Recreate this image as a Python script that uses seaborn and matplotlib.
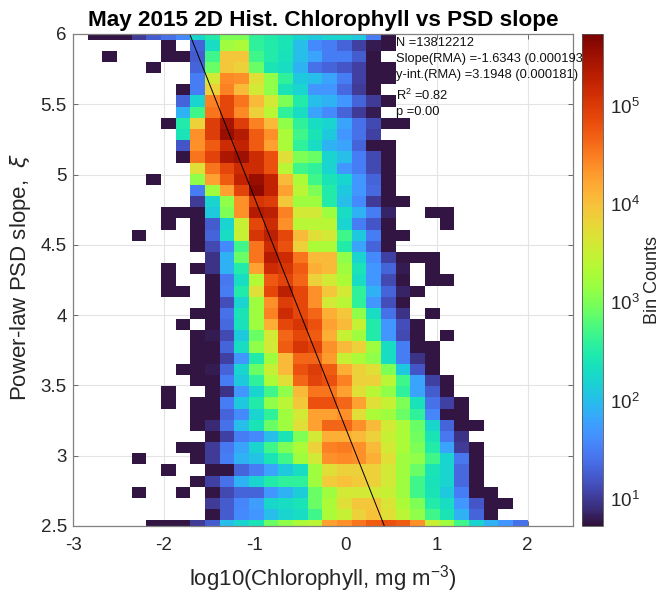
import numpy as np
import pandas as pd
import matplotlib
matplotlib.use('Agg')
import matplotlib.pyplot as plt
from matplotlib.colors import LogNorm
import seaborn as sns

# valores: log10(cuentas) por fila, de xi=6 (arriba) a xi=2.5
# 0 = celda vacia; las filas se completan con ceros a la derecha
log_counts = [
    [0,.75,.75,.75,1.0,1.25,1.4,1.6,2.25,2.5,3.0,3.0,2.6,2.5,2.4,2.2,2.1,2.2,2.2,2.1,1.5,.75],
    [0,0,0,0,0,0,.75,0,1.3,2.3,3.2,3.3,2.6,2.5,2.4,2.0,1.6,1.5,1.3,1.05,.8,.75],
    [0,0,.75,0,0,0,.75,.75,1.25,2.7,3.95,3.95,2.7,2.5,2.35,2.0,1.8,1.5,1.5,1.25,.75],
    [0,0,0,0,0,.75,0,0,1.3,2.9,3.95,3.85,2.9,2.4,2.3,1.9,1.4,1.3,1.2,1.05,.75,.75],
    [0,0,0,0,0,0,0,0,1.5,3.6,4.42,4.38,3.7,3.1,2.6,2.1,2.0,1.8,1.5,1.05,.75,.75],
    [0,0,0,0,0,0,0,.75,1.5,3.85,4.47,4.05,3.6,3.1,2.4,2.2,1.7,1.7,1.35,1.0,.75],
    [0,0,0,0,0,0,0,1.3,2.2,4.47,4.88,4.55,4.05,3.6,3.0,2.5,2.0,1.9,1.7,1.3,1.0,.75],
    [0,0,0,0,0,0,0,1.9,2.7,4.55,4.88,4.42,3.85,3.4,2.6,2.3,1.8,1.6,1.3,1.0,.8],
    [0,0,0,0,0,0,.75,2.5,3.85,4.97,5.45,4.97,4.47,4.05,3.1,2.6,2.3,2.2,1.8,1.4,1.1,.75,.75],
    [0,0,0,0,0,0,0,2.4,4.38,4.97,5.55,5.35,4.72,4.38,3.3,2.7,2.4,2.1,1.7,1.4,1.05],
    [0,0,0,0,0,0,0,1.2,4.38,4.72,5.15,5.25,4.72,4.25,3.3,2.6,2.3,1.9,1.8,1.3,.75,.75],
    [0,0,0,0,0,0,0,.75,4.55,4.93,5.4,5.5,5.15,4.8,3.7,3.0,2.9,2.2,2.0,1.5,1.1,.75],
    [0,0,0,0,0,0,0,0,3.7,4.55,4.88,5.15,5.15,4.8,3.4,2.7,2.6,2.2,1.7,1.5,1.1,.75],
    [0,0,0,0,0,.75,0,0,3.1,4.25,4.72,5.25,5.55,5.25,4.05,3.3,2.7,2.4,2.2,1.7,1.3,.75],
    [0,0,0,0,0,0,0,0,1.5,3.2,4.25,4.93,5.6,5.25,4.25,3.4,3.0,2.5,2.1,1.7,1.35,.75],
    [0,0,0,0,0,0,0,0,1.0,2.2,3.1,4.38,5.06,4.97,3.95,3.2,3.2,2.5,2.0,1.6,1.0,.75,.75],
    [0,0,0,0,0,0,.75,.75,.75,2.1,3.0,4.38,5.35,5.3,4.47,3.6,3.6,3.2,2.3,1.9,1.5,.85,0,0,.75,.75],
    [0,0,0,0,0,0,.75,0,.75,1.25,2.2,3.5,4.88,5.15,4.38,3.4,3.4,3.4,2.2,1.5,1.2,.75,0,0,0,.75],
    [0,0,0,0,.75,0,0,0,.75,1.3,2.3,3.5,5.06,5.3,4.88,4.05,3.7,3.6,2.7,2.1,1.5,.75,.75],
    [0,0,0,0,0,0,0,0,.75,1.1,1.6,2.7,4.55,5.15,4.8,3.85,3.3,3.3,2.5,1.8,1.3,.75],
    [0,0,0,0,0,0,0,0,0,.95,1.9,2.9,4.55,5.35,5.15,4.55,4.05,4.05,3.1,2.2,1.6,1.05,.75,.75,.75],
    [0,0,0,0,0,0,.75,0,.75,.95,1.9,2.5,4.25,5.15,5.06,4.72,4.15,4.05,3.2,2.4,1.7,1.3,.8,0,.75],
    [0,0,0,0,0,0,.75,0,0,.75,1.45,2.3,3.35,4.75,4.93,4.65,3.85,3.6,3.3,2.3,1.7,1.1,.75,0,.75,.75],
    [0,0,0,0,0,0,.75,.75,0,.75,1.5,2.5,3.7,4.88,5.3,4.88,4.38,3.95,3.6,2.6,1.9,1.3,.85,.75],
    [0,0,0,0,0,0,0,0,0,.75,1.15,2.2,3.2,4.38,4.97,4.88,4.38,3.6,3.4,2.6,1.7,1.15,.75],
    [0,0,0,0,0,0,0,0,.75,.75,1.4,2.4,3.2,4.47,5.15,4.88,4.65,4.15,3.95,3.1,2.3,1.4,.95,0,.75],
    [0,0,0,0,0,0,0,.75,0,.75,1.35,2.35,3.2,4.15,4.88,5.06,4.8,4.25,4.05,3.5,2.5,1.7,1.15,.75],
    [0,0,0,0,0,0,0,0,.75,.8,1.1,2.1,2.9,3.6,4.65,4.88,4.72,4.15,3.5,3.2,2.5,1.7,1.1,.75,0,.75],
    [0,0,0,0,0,0,0,0,.75,.75,1.3,2.3,3.1,3.6,4.72,5.06,4.93,4.38,4.05,3.85,3.2,2.3,1.5,.75,.75],
    [0,0,0,0,0,0,0,0,.75,.75,1.05,1.7,2.5,3.2,4.05,4.65,4.65,4.3,3.5,3.3,3.1,2.3,1.5,.95,.75],
    [0,0,0,0,0,0,0,.75,.75,.8,1.3,2.2,2.9,3.5,4.05,4.8,4.97,4.72,4.15,3.85,3.7,3.0,2.1,1.2,.75],
    [0,0,0,0,0,0,0,0,.75,.75,1.5,2.1,2.6,3.3,3.7,4.65,4.93,4.8,4.47,3.85,3.85,3.4,2.7,1.8,1.05,.75],
    [0,0,0,0,0,0,.75,0,0,.75,.95,1.7,2.2,2.7,3.1,4.05,4.55,4.55,4.25,3.7,3.4,3.1,2.6,1.8,1.25,.75],
    [0,0,0,0,0,0,.75,0,.75,.75,1.5,2.1,2.5,3.1,3.4,3.95,4.8,4.8,4.65,4.25,3.7,3.5,3.0,2.35,1.4,1.05,.75],
    [0,0,0,0,0,0,0,0,.75,.75,1.3,1.6,2.2,2.6,3.2,3.6,4.25,4.25,4.38,3.7,3.3,3.2,2.9,2.6,1.55,.75,.75],
    [0,0,0,0,0,0,0,0,.75,.9,1.4,2.0,2.4,2.9,3.2,3.7,4.25,4.65,4.65,4.38,4.05,3.6,3.3,2.9,2.25,1.3,.75,.75],
    [0,0,0,0,0,0,0,0,0,.75,1.05,1.5,1.6,2.0,2.4,3.0,3.6,4.15,4.15,4.05,3.85,3.5,3.3,2.95,2.4,1.45,.95],
    [0,0,0,0,0,0,0,.75,.75,1.0,1.45,1.8,2.2,2.7,3.0,3.3,3.85,4.47,4.5,4.38,4.05,3.6,3.3,3.0,2.5,1.8,1.0,.75],
    [0,0,0,0,.75,0,0,0,.75,1.0,1.5,1.9,2.05,2.4,2.7,3.2,3.6,4.38,4.42,4.38,4.15,3.7,3.2,3.1,2.7,2.2,1.45,.75],
    [0,0,0,0,0,0,.75,0,0,.75,.75,1.3,1.5,1.8,2.1,2.3,3.2,3.7,3.85,3.85,3.85,3.6,3.2,2.9,2.4,2.2,1.35,.75],
    [0,0,0,0,0,0,0,0,.75,1.05,1.4,1.9,2.2,2.5,2.6,2.6,3.2,3.9,4.0,3.9,3.85,3.6,3.2,2.7,2.35,2.2,1.35,.75],
    [0,0,0,0,.75,0,0,.75,0,.75,1.1,1.3,1.3,1.7,1.9,2.15,2.9,3.2,3.6,3.6,3.6,3.5,3.2,2.7,2.4,2.1,1.5,.75,.75],
    [0,0,0,0,0,0,0,0,0,1.0,1.25,1.55,1.75,2.25,2.3,2.4,2.9,3.3,3.7,3.95,3.95,3.65,3.3,3.0,2.5,2.3,1.7,1.2,.75,.75],
    [0,0,0,0,0,0,0,0,0,.75,1.25,1.6,1.7,2.0,2.2,2.3,2.7,3.3,3.5,3.85,4.0,3.7,3.4,3.1,2.7,2.4,1.9,1.3,.75],
    [0,0,0,0,0,.75,.75,.75,1.0,1.25,2.0,2.2,2.4,2.9,3.1,3.3,3.4,4.25,4.38,4.55,4.72,4.8,4.72,4.38,3.5,3.2,2.7,2.2,1.9,1.7,1.4],
]

n_cols = 31
x_ticks = [-3, -2, -1, 0, 1, 2]
y_ticks = [2.5, 3, 3.5, 4, 4.5, 5, 5.5, 6]
y_tick_labels = ['2.5', '3', '3.5', '4', '4.5', '5', '5.5', '6']

# ajuste RMA que aparece en la figura
pendiente = -1.6343
intercepto = 3.1948
lineas_texto = [
    ('N =13812212', 43),
    ('Slope(RMA) =-1.6343 (0.000193)', 59),
    ('y-int.(RMA) =3.1948 (0.000181)', 75),
    ('R$^2$ =0.82', 95),
    ('p =0.00', 112),
]

sns.set_theme(style="white")
plt.rcParams['font.family'] = ['Liberation Sans', 'DejaVu Sans']
plt.rcParams['mathtext.default'] = 'regular'

W, H = 661, 595
GRIS = '#262626'

tabla = pd.DataFrame([fila + [0] * (n_cols - len(fila)) for fila in log_counts])
cuentas = 10.0 ** tabla.where(tabla > 0)

# celdas: 31 columnas de -3 a 2, 45 filas centradas entre 6 y 2.5
ancho_x = 5 / n_cols
alto_y = 3.5 / (len(tabla) - 1)


def pos_x(v):
    return (np.asarray(v, dtype=float) + 3) / ancho_x


def pos_y(v):
    return (6 - np.asarray(v, dtype=float)) / alto_y + 0.5


fig = plt.figure(figsize=(W / 100, H / 100), dpi=100, facecolor='white')
ax = fig.add_axes([73 / W, 1 - 526 / H, 500 / W, 492 / H])
cax = fig.add_axes([581.5 / W, 1 - 526 / H, 21.5 / W, 492 / H], zorder=5)

sns.heatmap(cuentas, ax=ax, cbar_ax=cax, cmap='turbo',
            norm=LogNorm(vmin=5.3, vmax=5.4e5),
            xticklabels=False, yticklabels=False)

ax.set_xlim(0, pos_x(2.5))
ax.set_ylim(pos_y(2.5), pos_y(6))
ax.set_xticks(pos_x(x_ticks))
ax.set_xticklabels([str(v) for v in x_ticks], fontsize=13.5, color=GRIS)
ax.set_yticks(pos_y(y_ticks))
ax.set_yticklabels(y_tick_labels, fontsize=13.5, color=GRIS)
ax.tick_params(direction='in', length=3.5, width=0.6, color='#555555',
               top=True, right=True, bottom=True, left=True)
ax.tick_params(axis='x', pad=8)
ax.tick_params(axis='y', pad=4.5)
ax.set_axisbelow(True)
ax.grid(True, color='#e4e4e4', lw=0.8)
for s in ax.spines.values():
    s.set_visible(True)
    s.set_color('#808080')
    s.set_linewidth(0.9)

# linea RMA
y_linea = np.array([2.5, 6])
ax.plot(pos_x((y_linea - intercepto) / pendiente), pos_y(y_linea), color='black', lw=0.7)

ax.set_title('May 2015 2D Hist. Chlorophyll vs PSD slope', fontsize=16.2, fontweight='bold',
             color='black', pad=6)
ax.set_xlabel('log10(Chlorophyll, mg m$^{-3}$)', fontsize=16, color=GRIS)
ax.xaxis.set_label_coords(0.5, -0.076)
ax.set_ylabel('Power-law PSD slope,  $\\mathit{\\xi}$', fontsize=16, color=GRIS)
ax.yaxis.set_label_coords(-0.08, 0.506)

for texto, y in lineas_texto:
    fig.text(396 / W, 1 - y / H, texto, fontsize=9.3, color='#111111', ha='left', va='center', zorder=3)

# barra de color
cb = ax.collections[0].colorbar
cb.outline.set_linewidth(0.6)
cb.outline.set_edgecolor('#555555')
cax.tick_params(which='both', direction='in', right=True, color='#444444', width=0.5)
cax.tick_params(which='major', length=4, labelsize=13.5, labelcolor=GRIS, pad=5)
cax.tick_params(which='minor', length=2)
cb.set_label('Bin Counts', fontsize=13, color=GRIS, va='center')
cax.yaxis.set_label_coords(3.28, 0.5)

fig.savefig('out.png', dpi=100)
